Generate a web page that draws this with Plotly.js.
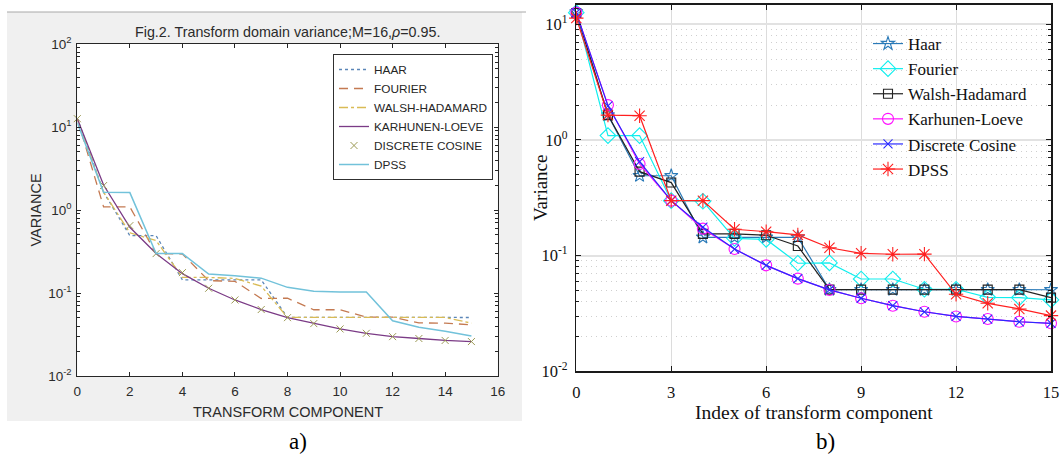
<!DOCTYPE html>
<html><head><meta charset="utf-8">
<script src="https://cdn.plot.ly/plotly-3.0.1.min.js"></script>
<style>html,body{margin:0;padding:0;background:#fff}#chart{width:1062px;height:454px}</style>
</head><body><div id="chart"></div>
<script>
// ---- data ----
const component = [0,1,2,3,4,5,6,7,8,9,10,11,12,13,14,15];
const haar    = [12.8, 1.64, 0.491, 0.49, 0.144, 0.144, 0.144, 0.144, 0.0508, 0.0508, 0.0508, 0.0508, 0.0508, 0.0508, 0.0508, 0.0507];
const fourier = [12.6, 1.09, 1.09, 0.2985, 0.295, 0.141, 0.138, 0.0859, 0.0865, 0.0628, 0.0628, 0.0512, 0.0512, 0.0436, 0.0434, 0.0414];
const walsh   = [12.5, 1.64, 0.532, 0.428, 0.154, 0.154, 0.150, 0.121, 0.0508, 0.0508, 0.0508, 0.0508, 0.0508, 0.0508, 0.0508, 0.0433];
const klt     = [12.6, 2.0, 0.62, 0.2985, 0.171, 0.114, 0.0824, 0.0632, 0.0505, 0.0428, 0.0369, 0.0327, 0.0298, 0.0283, 0.0268, 0.0260];
const dct     = [12.6, 1.97, 0.648, 0.2985, 0.176, 0.114, 0.0824, 0.0632, 0.0505, 0.0428, 0.0369, 0.0327, 0.0298, 0.0283, 0.0268, 0.0260];
const dpss    = [11.3, 1.64, 1.62, 0.2985, 0.2985, 0.169, 0.161, 0.151, 0.117, 0.1047, 0.1028, 0.103, 0.0463, 0.0387, 0.0346, 0.0303];

const namesA = ['HAAR','FOURIER','WALSH-HADAMARD','KARHUNEN-LOEVE','DISCRETE COSINE','DPSS'];
const namesB = ['Haar','Fourier','Walsh-Hadamard','Karhunen-Loeve','Discrete Cosine','DPSS'];
const yTickVals = [0.01, 0.1, 1, 10, 100];
const yTickText = ['10<sup>-2</sup>','10<sup>-1</sup>','10<sup>0</sup>','10<sup>1</sup>','10<sup>2</sup>'];
const xTicksA = [0,2,4,6,8,10,12,14,16];
const xTicksB = [0,3,6,9,12,15];
const titleA = 'Fig.2. Transform domain variance;M=16,<i>ρ</i>=0.95.';
const xTitleA = 'TRANSFORM COMPONENT', yTitleA = 'VARIANCE';
const xTitleB = 'Index of transform component', yTitleB = 'Variance';

// minor log tick positions (2..9 in each decade)
const minorVals = [];
for (const d of [0.01, 0.1, 1, 10]) for (let k = 2; k <= 9; k++) minorVals.push(+(d*k).toPrecision(3));

const series = [haar, fourier, walsh, klt, dct, dpss];

// ---- panel a) styles ----
const SANS = 'Liberation Sans, Arial, sans-serif';
const SERIF = 'Liberation Serif, Times New Roman, serif';
const stylesA = [
  {mode:'lines', line:{color:'#5b86b8', dash:'dot', width:1.3}},
  {mode:'lines', line:{color:'#c47a52', dash:'9px,6px', width:1.3}},
  {mode:'lines', line:{color:'#d9bb55', dash:'dashdot', width:1.3}},
  {mode:'lines', line:{color:'#7b3b86', width:1.3}},
  {mode:'markers', marker:{symbol:'x-thin-open', size:7, color:'#9c9a55', line:{width:1, color:'#9c9a55'}}},
  {mode:'lines', line:{color:'#72c2da', width:1.5}}
];
// ---- panel b) styles ----
const stylesB = [
  {color:'#2a7ab8', symbol:'star-open', size:10},
  {color:'#10eeee', symbol:'diamond-open', size:12},
  {color:'#222222', symbol:'square-open', size:9},
  {color:'#ff10ff', symbol:'circle-open', size:11},
  {color:'#2a2aff', symbol:'x-thin-open', size:9},
  {color:'#ff2020', symbol:'asterisk-open', size:12}
];

const traces = [];
series.forEach((ys, i) => {
  traces.push(Object.assign({
    type:'scatter', x:component, y:ys, name:namesA[i], xaxis:'x', yaxis:'y',
    legend:'legend', cliponaxis:false
  }, stylesA[i]));
});
series.forEach((ys, i) => {
  const s = stylesB[i];
  traces.push({
    type:'scatter', mode:'lines+markers', x:component, y:ys, name:namesB[i],
    xaxis:'x2', yaxis:'y2', legend:'legend2', cliponaxis:false,
    line:{color:s.color, width:1.2},
    marker:{symbol:s.symbol, size:s.size, color:s.color, line:{color:s.color, width:1.1}}
  });
});

const W = 1062, H = 454;
const px = v => v / W, py = v => 1 - v / H;

const layout = {
  width:W, height:H, margin:{l:0,r:0,t:0,b:0},
  paper_bgcolor:'#ffffff', plot_bgcolor:'rgba(0,0,0,0)',
  showlegend:true,
  xaxis:{domain:[px(77.3), px(497.7)], range:[0,16], anchor:'y', tickmode:'array', tickvals:xTicksA,
    ticks:'inside', ticklen:4, tickcolor:'#262626', showline:true, linecolor:'#262626', linewidth:1,
    mirror:'ticks', showgrid:false, zeroline:false, ticklabelstandoff:3,
    tickfont:{family:SANS, size:13.5, color:'#2b2b2b'}},
  yaxis:{domain:[py(376), py(44)], type:'log', range:[-2,2], anchor:'x', tickmode:'array',
    tickvals:yTickVals, ticktext:yTickText,
    ticks:'inside', ticklen:4, tickcolor:'#262626', showline:true, linecolor:'#262626', linewidth:1,
    mirror:'ticks', showgrid:false, zeroline:false, ticklabelstandoff:2,
    tickfont:{family:SANS, size:13.5, color:'#2b2b2b'},
    minor:{tickmode:'array', tickvals:minorVals, ticks:'inside', ticklen:2.5, tickcolor:'#262626', showgrid:false}},
  xaxis2:{domain:[px(576.3), px(1051)], range:[0,15], anchor:'y2', tickmode:'array', tickvals:xTicksB,
    ticks:'inside', ticklen:5, tickcolor:'#1a1a1a', showline:true, linecolor:'#1a1a1a', linewidth:1.5,
    mirror:'ticks', showgrid:true, gridcolor:'#dcdcdc', gridwidth:1, zeroline:false, ticklabelstandoff:5,
    tickfont:{family:SERIF, size:16.5, color:'#111'}},
  yaxis2:{domain:[py(371.3), py(4.7)], type:'log', range:[-2,1.169], anchor:'x2', tickmode:'array',
    tickvals:yTickVals, ticktext:yTickText,
    ticks:'inside', ticklen:5, tickcolor:'#1a1a1a', showline:true, linecolor:'#1a1a1a', linewidth:1.5,
    mirror:'ticks', showgrid:true, gridcolor:'#e2e2e2', gridwidth:2, zeroline:false, ticklabelstandoff:4,
    tickfont:{family:SERIF, size:16.5, color:'#111'},
    minor:{tickmode:'array', tickvals:minorVals, ticks:'inside', ticklen:3, tickcolor:'#1a1a1a',
      showgrid:true, gridcolor:'#cfcfcf', griddash:'1px,4px', gridwidth:1}},
  legend:{x:px(333), y:py(54), xanchor:'left', yanchor:'top', bgcolor:'#ffffff', bordercolor:'#303030',
    borderwidth:1, font:{family:SANS, size:11.8, color:'#262626'}, tracegroupgap:0},
  legend2:{x:px(868), y:py(26), xanchor:'left', yanchor:'top', bgcolor:'rgba(0,0,0,0)', borderwidth:0,
    font:{family:SERIF, size:17, color:'#111'}, tracegroupgap:0},
  shapes:[
    {type:'rect', xref:'paper', yref:'paper', x0:px(7), x1:px(522), y0:py(421), y1:py(12),
      fillcolor:'#f0f0f0', line:{width:0}, layer:'below'},
    {type:'line', xref:'paper', yref:'paper', x0:px(7), x1:px(526), y0:py(12), y1:py(12),
      line:{color:'#a8a8a8', width:1}, layer:'below'},
    {type:'rect', xref:'paper', yref:'paper', x0:px(77.3), x1:px(497.7), y0:py(376), y1:py(44),
      fillcolor:'#ffffff', line:{width:0}, layer:'below'}
  ],
  annotations:[
    {text:titleA, xref:'paper', yref:'paper', x:px(287.5), y:py(32), xanchor:'center', yanchor:'middle',
      showarrow:false, font:{family:SANS, size:14.3, color:'#2b2b2b'}},
    {text:xTitleA, xref:'paper', yref:'paper', x:px(288), y:py(412), xanchor:'center', yanchor:'middle',
      showarrow:false, font:{family:SANS, size:14.5, color:'#2b2b2b'}},
    {text:yTitleA, xref:'paper', yref:'paper', x:px(35.5), y:py(210), xanchor:'center', yanchor:'middle',
      textangle:-90, showarrow:false, font:{family:SANS, size:14.5, color:'#2b2b2b'}},
    {text:xTitleB, xref:'paper', yref:'paper', x:px(813.6), y:py(412), xanchor:'center', yanchor:'middle',
      showarrow:false, font:{family:SERIF, size:19.5, color:'#111'}},
    {text:yTitleB, xref:'paper', yref:'paper', x:px(540), y:py(188), xanchor:'center', yanchor:'middle',
      textangle:-90, showarrow:false, font:{family:SERIF, size:19, color:'#111'}},
    {text:'a)', xref:'paper', yref:'paper', x:px(298), y:py(441), xanchor:'center', yanchor:'middle',
      showarrow:false, font:{family:SERIF, size:23, color:'#000'}},
    {text:'b)', xref:'paper', yref:'paper', x:px(825), y:py(441), xanchor:'center', yanchor:'middle',
      showarrow:false, font:{family:SERIF, size:23, color:'#000'}}
  ]
};

Plotly.newPlot('chart', traces, layout, {displayModeBar:false, staticPlot:true});
</script>
</body></html>
